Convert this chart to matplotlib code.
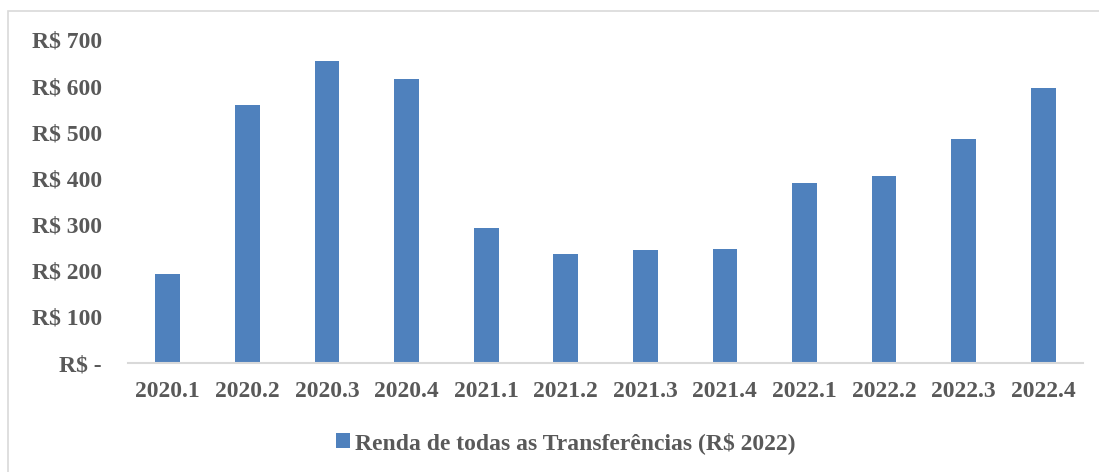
import numpy as np
import matplotlib.pyplot as plt
from matplotlib.patches import Rectangle

quarters = ['2020.1', '2020.2', '2020.3', '2020.4', '2021.1', '2021.2',
            '2021.3', '2021.4', '2022.1', '2022.2', '2022.3', '2022.4']
renda = [193, 560, 655, 616, 293, 237, 245, 248, 390, 406, 486, 597]
yticks = [0, 100, 200, 300, 400, 500, 600, 700]
ylabels = ['R$ -', 'R$ 100', 'R$ 200', 'R$ 300', 'R$ 400', 'R$ 500', 'R$ 600', 'R$ 700']

plt.rcParams['font.family'] = ['Liberation Serif', 'DejaVu Serif']
txt = '#595959'

fig = plt.figure(figsize=(10.99, 4.72), dpi=100)
ax = fig.add_axes([0.1165, 0.2309, 0.869, 0.6844])

x = np.arange(len(quarters))
ax.bar(x, renda, width=0.31, color='#4F81BD', label='Renda de todas as Transferências (R$ 2022)')

ax.set_xlim(-0.5, len(quarters) - 0.5)
ax.set_ylim(0, 700)
ax.set_yticks(yticks)
ax.set_yticklabels(ylabels, fontsize=17, fontweight='bold', color=txt)
ax.set_xticks(x)
ax.set_xticklabels(quarters, fontsize=17, fontweight='bold', color=txt)
ax.tick_params(length=0)
ax.tick_params(axis='y', pad=19)
ax.tick_params(axis='x', pad=13)
for s in ['top', 'right', 'left']:
    ax.spines[s].set_visible(False)
ax.spines['bottom'].set_color('#D9D9D9')
ax.spines['bottom'].set_linewidth(1.5)

leg = fig.legend(loc='center', bbox_to_anchor=(0.515, 0.062), frameon=False,
                 prop={'size': 17, 'weight': 'bold'}, handlelength=0.6, handleheight=0.6,
                 handletextpad=0.2)
for t in leg.get_texts():
    t.set_color(txt)

# chart area border
fig.patches.append(Rectangle((8 / 1099, -0.1), 1.2, 1 - 11 / 472 + 0.1, transform=fig.transFigure,
                             fill=False, edgecolor='#D9D9D9', linewidth=1.2))

fig.savefig('out.png', dpi=100)
